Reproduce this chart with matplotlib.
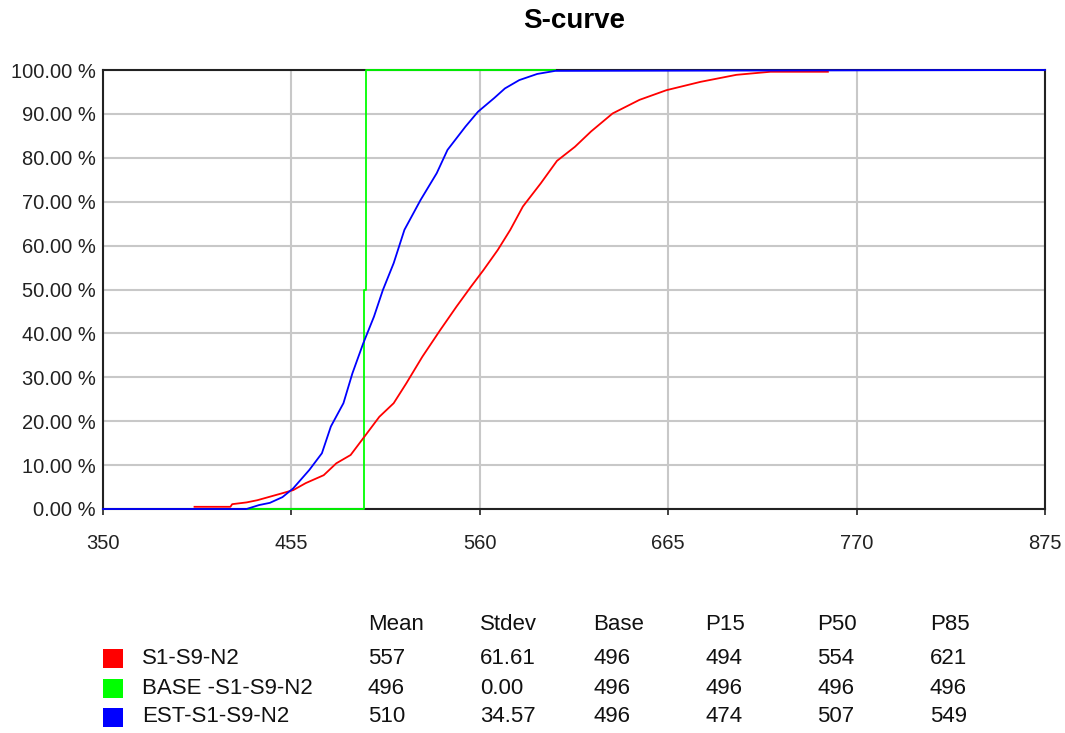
import matplotlib.pyplot as plt
from matplotlib.patches import Rectangle
from matplotlib.ticker import FuncFormatter

# --- data ---
red_x = [401, 421, 422, 430, 436, 443, 450, 456, 463, 473, 480, 488, 495, 504, 512,
         519, 528, 538, 547, 555, 562, 570, 577, 584, 594, 603, 613, 622, 634, 649,
         664, 683, 703, 722, 754]
red_y = [0.5, 0.5, 1.1, 1.5, 2.0, 2.8, 3.6, 4.3, 5.9, 7.7, 10.4, 12.3, 16.1, 21.0, 24.1,
         28.6, 34.7, 40.8, 46.1, 50.6, 54.4, 59.0, 63.6, 68.9, 74.2, 79.3, 82.5, 86.0, 90.1, 93.2,
         95.4, 97.3, 98.9, 99.6, 99.6]

green_x = [430, 495.6, 495.6, 496.5, 496.5, 602]
green_y = [0, 0, 50, 50, 100, 100]

blue_x = [350, 430, 437, 443, 450, 456, 465, 472, 477, 484, 489, 495, 501, 506, 512,
          518, 527, 536, 542, 552, 559, 568, 574, 582, 592, 602, 875]
blue_y = [0, 0, 0.9, 1.4, 2.7, 4.7, 8.9, 12.7, 18.8, 24.1, 30.9, 37.7, 43.8, 49.9, 56.0,
          63.6, 70.4, 76.5, 81.8, 87.1, 90.5, 93.6, 95.8, 97.7, 99.1, 99.8, 100]

series_names = ['S1-S9-N2', 'BASE -S1-S9-N2', 'EST-S1-S9-N2']
series_colors = ['#ff0000', '#00ff00', '#0000ff']
stat_headers = ['Mean', 'Stdev', 'Base', 'P15', 'P50', 'P85']
stat_rows = [
    ['557', '61.61', '496', '494', '554', '621'],
    ['496', '0.00', '496', '496', '496', '496'],
    ['510', '34.57', '496', '474', '507', '549'],
]
x_ticks = [350, 455, 560, 665, 770, 875]
y_ticks = list(range(0, 101, 10))


def main():
    plt.rcParams['font.family'] = ['Liberation Sans', 'DejaVu Sans']
    W, H = 1065, 733
    fig = plt.figure(figsize=(W / 100, H / 100), dpi=100)
    ax = fig.add_axes([103 / W, 1 - 509 / H, (1045 - 103) / W, (509 - 70) / H])

    ax.plot(green_x, green_y, color=series_colors[1], lw=1.3, zorder=3, clip_on=False)
    ax.plot(red_x, red_y, color=series_colors[0], lw=1.3, zorder=4, clip_on=False)
    ax.plot(blue_x, blue_y, color=series_colors[2], lw=1.3, zorder=5, clip_on=False)

    ax.set_xlim(350, 875)
    ax.set_ylim(0, 100)
    ax.set_xticks(x_ticks)
    ax.set_yticks(y_ticks)
    ax.yaxis.set_major_formatter(FuncFormatter(lambda v, p: f'{v:.2f} %'))
    ax.tick_params(axis='x', length=4, width=1.2, pad=14, labelsize=14.5, colors='#222222')
    ax.tick_params(axis='y', length=0, pad=5, labelsize=14.5, colors='#222222')
    ax.grid(True, color='#c8c8c8', lw=1.5)
    ax.set_axisbelow(True)
    for s in ax.spines.values():
        s.set_color('#222222')
        s.set_linewidth(1.5)

    fig.text(574 / W, 1 - 21 / H, 'S-curve', ha='center', va='center',
             fontsize=20, fontweight='bold')

    # stats table under the chart
    col_x = [368, 480, 593, 705, 817, 930]
    row_y = [658, 688, 717]
    fs = 16
    for cx, h in zip(col_x, stat_headers):
        fig.text(cx / W, 1 - 624 / H, h, ha='left', va='center', fontsize=fs, color='#111111')
    for name, color, vals, ry in zip(series_names, series_colors, stat_rows, row_y):
        fig.patches.append(Rectangle((103 / W, 1 - (ry + 10) / H), 20 / W, 19 / H,
                                     transform=fig.transFigure, facecolor=color,
                                     edgecolor='none'))
        fig.text(142 / W, 1 - ry / H, name, ha='left', va='center', fontsize=fs, color='#111111')
        for cx, v in zip(col_x, vals):
            fig.text(cx / W, 1 - ry / H, v, ha='left', va='center', fontsize=fs, color='#111111')

    fig.savefig('out.png', dpi=100, facecolor='white')


if __name__ == '__main__':
    main()
